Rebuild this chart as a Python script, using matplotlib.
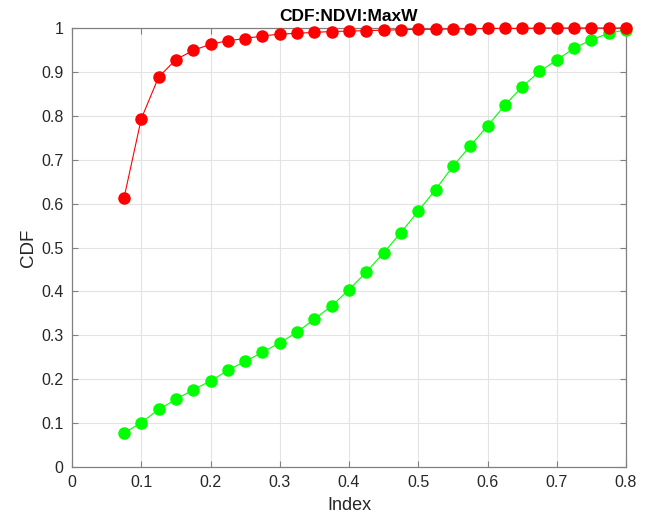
import matplotlib
matplotlib.use("Agg")
import matplotlib.pyplot as plt

plt.rcParams['font.family'] = ['Liberation Sans', 'DejaVu Sans']

# CDF curves
index = [0.075, 0.1, 0.125, 0.15, 0.175, 0.2, 0.225, 0.25, 0.275, 0.3,
         0.325, 0.35, 0.375, 0.4, 0.425, 0.45, 0.475, 0.5, 0.525, 0.55,
         0.575, 0.6, 0.625, 0.65, 0.675, 0.7, 0.725, 0.75, 0.775, 0.8]
cdf_red = [0.612, 0.793, 0.888, 0.928, 0.949, 0.963, 0.971, 0.976, 0.982, 0.986,
           0.988, 0.990, 0.992, 0.993, 0.994, 0.995, 0.996, 0.997, 0.997, 0.998,
           0.998, 0.999, 0.999, 0.999, 1.0, 1.0, 1.0, 1.0, 1.0, 1.0]
cdf_green = [0.077, 0.101, 0.131, 0.154, 0.176, 0.196, 0.220, 0.241, 0.261, 0.283,
             0.307, 0.337, 0.367, 0.404, 0.444, 0.488, 0.534, 0.583, 0.632, 0.685,
             0.731, 0.777, 0.824, 0.866, 0.901, 0.927, 0.954, 0.973, 0.988, 0.996]

xticks = [0, 0.1, 0.2, 0.3, 0.4, 0.5, 0.6, 0.7, 0.8]
yticks = [0, 0.1, 0.2, 0.3, 0.4, 0.5, 0.6, 0.7, 0.8, 0.9, 1]

fig = plt.figure(figsize=(6.46, 5.21), dpi=100)
ax = fig.add_axes([72/646, 1 - 467/521, (626 - 72)/646, (467 - 28)/521])

ax.plot(index, cdf_green, '-o', color=(0, 1, 0), lw=0.8, ms=8, zorder=3, clip_on=False)
ax.plot(index, cdf_red, '-o', color=(1, 0, 0), lw=0.8, ms=8, zorder=4, clip_on=False)

ax.set_xlim(0, 0.8)
ax.set_ylim(0, 1)
ax.set_xticks(xticks)
ax.set_xticklabels([f"{t:g}" for t in xticks])
ax.set_yticks(yticks)
ax.set_yticklabels([f"{t:g}" for t in yticks])

ax.grid(True, color='#e3e3e3', lw=0.8)
ax.set_axisbelow(True)
for s in ax.spines.values():
    s.set_color('#808080')
    s.set_linewidth(0.9)
ax.tick_params(direction='in', top=True, right=True, length=4, labelsize=11.5,
               colors='#808080', labelcolor='#262626', pad=6)

ax.set_xlabel('Index', fontsize=13, color='#262626', labelpad=5)
ax.set_ylabel('CDF', fontsize=13.5, color='#262626', labelpad=3)
ax.set_title('CDF:NDVI:MaxW', fontsize=12.5, fontweight='bold', pad=5)

fig.savefig('out.png', dpi=100)
